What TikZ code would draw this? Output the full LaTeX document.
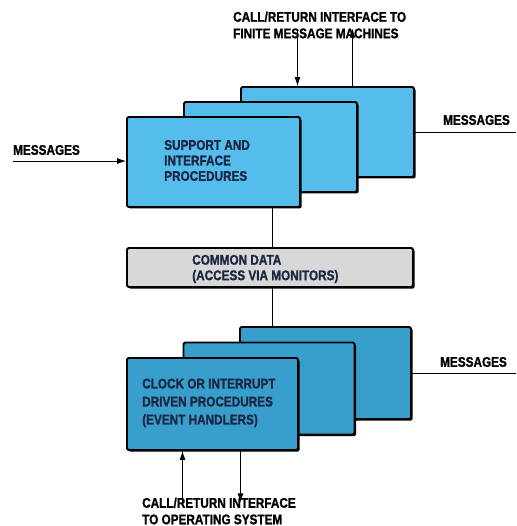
\documentclass[tikz,border=0pt]{standalone}
\usepackage{fontspec}
\setmainfont{Liberation Sans}[FakeStretch=0.84, BoldFeatures={FakeBold=1.2}]
\usetikzlibrary{arrows.meta, shadows, positioning}
\definecolor{toplayer}{HTML}{55BDEB}
\definecolor{lowlayer}{HTML}{389FCC}
\definecolor{commongray}{HTML}{D8D8D8}
\definecolor{inktext}{HTML}{1C2542}
\tikzset{
    layerbox/.style={draw=black, line width=1.9pt, rounded corners=1.5pt,
        drop shadow={shadow xshift=1.5pt, shadow yshift=-1.5pt, fill=black, opacity=1}},
    supbox/.style={layerbox, fill=toplayer, minimum width=173pt, minimum height=90pt},
    evtbox/.style={layerbox, fill=lowlayer, minimum width=171pt, minimum height=92pt},
    databox/.style={layerbox, fill=commongray, minimum width=286pt, minimum height=39pt},
    boxtext/.style={inner sep=0pt, align=left, text=inktext,
        font=\bfseries\fontsize{14}{15.5}\selectfont},
    caption/.style={inner sep=0pt, align=left, font=\bfseries\fontsize{14}{16.5}\selectfont},
    wire/.style={line width=0.9pt},
    msgarrow/.style={wire, -{Latex[length=9pt,width=6pt]}}
}
\begin{document}
\begin{tikzpicture}[x=1pt,y=-1pt]
        \useasboundingbox (0,0) rectangle (516,526);
        % Stacked support procedures (top)
        \foreach \i in {2,1,0}
            \node[supbox] (sup\i) at (213.5+57*\i,162-15*\i) {};
        \node[boxtext, right=38pt of sup0.west, yshift=1.5pt] (suptext) {SUPPORT AND\\INTERFACE\\PROCEDURES};
        % Stacked event handlers (bottom)
        \foreach \i in {2,1,0}
            \node[evtbox] (evt\i) at (212.5+56.5*\i,404-15.5*\i) {};
        \node[boxtext, right=16pt of evt0.west, yshift=1pt, font=\bfseries\fontsize{14}{18}\selectfont] (evttext) {CLOCK OR INTERRUPT\\DRIVEN PROCEDURES\\(EVENT HANDLERS)};
        % Shared data
        \node[databox] (cd) at (270,267.5) {};
        \node[boxtext, right=66pt of cd.west, yshift=-1.5pt] (cdtext) {COMMON DATA\\(ACCESS VIA MONITORS)};
        % Captions
        \node[caption, anchor=west] (ctop) at (233,25) {CALL/RETURN INTERFACE TO\\FINITE MESSAGE MACHINES};
        \node[caption, anchor=west] (cbot) at (142,511) {CALL/RETURN INTERFACE\\TO OPERATING SYSTEM};
        \node[caption, anchor=west] (msgL) at (13,150) {MESSAGES};
        \node[caption, anchor=west] (msgR) at (443,120) {MESSAGES};
        \node[caption, anchor=west] (msgB) at (440,362) {MESSAGES};
        \coordinate (edgeL) at (13,161);
        \coordinate (edgeR) at (516,131);
        \coordinate (edgeB) at (516,373);
        % Connectors
        \draw[wire] ([xshift=2pt]cd.north |- sup0.south) -- ([xshift=2pt]cd.north);
        \draw[wire] ([xshift=2pt]cd.south) -- ([xshift=2pt]cd.south |- evt2.north);
        \draw[msgarrow] ([xshift=-30pt,yshift=8pt]sup2.north |- ctop.south) -- ([xshift=-30pt]sup2.north);
        \draw[msgarrow] ([xshift=25pt]sup2.north) -- ([xshift=25pt,yshift=10pt]sup2.north |- ctop.south);
        \draw[msgarrow] (edgeL) -- (edgeL -| sup0.west);
        \draw[wire] (sup2.east) -- (sup2.east -| edgeR);
        \draw[wire] (evt2.east) -- (evt2.east -| edgeB);
        \draw[msgarrow] ([xshift=-30pt,yshift=-5pt]evt0.south |- cbot.north) -- ([xshift=-30pt]evt0.south);
        \draw[msgarrow] ([xshift=28pt]evt0.south) -- ([xshift=28pt,yshift=-5pt]evt0.south |- cbot.north);
    \end{tikzpicture}
\end{document}
